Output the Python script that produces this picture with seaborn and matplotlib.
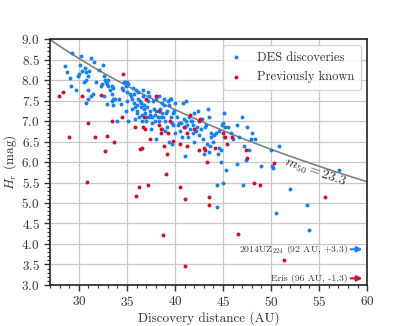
# H_r vs discovery distance for DES TNOs

import numpy as np
import pandas as pd
import matplotlib
matplotlib.use("Agg")
import matplotlib.pyplot as plt
import seaborn as sns
from matplotlib.ticker import MultipleLocator

# DES discoveries (distance AU, H_r mag)
des_dist = [28.6, 28.8, 29.1, 29.2, 29.3, 29.7, 29.9, 30.0, 30.1, 30.2, 30.3, 30.5, 30.6, 30.7, 30.7, 30.7,
            31.0, 31.0, 31.0, 31.1, 31.3, 31.3, 31.5, 31.6, 31.8, 32.1, 32.3, 32.4, 32.5, 32.6, 32.6, 32.7,
            32.8, 32.9, 33.0, 33.0, 32.9, 33.2, 33.4, 33.4, 33.4, 33.5, 33.6, 33.6, 33.8, 34.0, 34.2, 34.4,
            34.5, 34.6, 34.7, 34.8, 34.9, 35.0, 35.0, 35.1, 35.0, 35.1, 35.4, 35.5, 35.5, 35.6, 35.7, 35.7,
            35.8, 35.8, 35.9, 36.0, 36.0, 36.1, 36.2, 36.3, 36.4, 36.5, 36.5, 36.6, 36.6, 36.7, 36.7, 36.8,
            36.9, 37.0, 37.0, 37.1, 37.2, 37.2, 37.3, 37.3, 37.4, 37.5, 37.6, 37.6, 37.7, 37.8, 37.9, 38.0,
            38.0, 38.0, 38.2, 38.3, 38.3, 38.4, 38.5, 38.6, 38.7, 38.8, 38.9, 38.9, 39.0, 39.1, 39.2, 39.2,
            39.3, 39.4, 39.4, 39.5, 39.6, 39.6, 39.7, 39.7, 39.8, 39.9, 40.0, 40.0, 40.2, 40.3, 40.4, 40.5,
            40.7, 40.8, 40.9, 41.0, 41.0, 41.1, 41.2, 41.3, 41.4, 41.5, 41.6, 41.7, 41.8, 41.9, 42.0, 42.0,
            42.3, 42.4, 42.5, 42.7, 42.8, 43.0, 43.1, 43.2, 43.3, 43.4, 43.5, 43.5, 43.6, 43.7,
            43.8, 44.1, 44.3, 44.4, 44.4, 44.5, 44.6, 44.8, 44.8, 44.9, 45.0, 45.0, 45.1, 45.1, 45.2, 45.3, 45.5,
            45.8, 46.0, 46.5, 46.5, 46.7, 47.0, 47.1, 47.2, 47.4, 47.5, 47.7, 47.9, 48.0, 48.3, 49.0,
            50.0, 50.1, 50.2, 50.5, 50.8, 52.0, 53.7, 54.0, 57.1,
            34.9, 35.3, 36.2, 36.8, 37.4, 37.9, 38.6, 39.0, 39.8, 40.6, 41.9, 42.2, 42.9, 44.0, 44.6]
des_h = [8.35, 8.2, 8.05, 7.85, 8.65, 7.75, 8.1, 8.15, 8.38, 8.58, 8.22, 7.95, 8.3, 8.2, 8.0, 7.45,
         8.1, 7.75, 7.55, 8.22, 7.6, 8.55, 7.65, 8.45, 7.95, 8.25, 7.85, 7.9, 8.38, 8.1, 7.6, 8.0,
         7.95, 7.9, 8.0, 7.85, 7.42, 7.75, 7.5, 7.65, 7.85, 7.8, 7.55, 7.4, 7.55, 7.0, 7.55, 7.42,
         7.8, 7.75, 7.95, 7.95, 7.25, 7.95, 7.7, 7.0, 7.5, 7.9, 7.6, 7.55, 7.3, 7.8, 7.45, 7.65,
         7.05, 7.35, 7.75, 7.2, 7.4, 7.25, 7.7, 7.1, 7.5, 7.45, 7.35, 7.15, 7.0, 7.75, 7.6, 7.4,
         7.2, 7.0, 7.1, 7.35, 7.7, 7.5, 7.6, 7.1, 7.15, 6.8, 7.1, 6.95, 7.5, 7.3, 7.0, 6.55,
         7.25, 7.55, 7.1, 7.6, 7.0, 7.3, 7.1, 6.8, 7.2, 7.1, 7.4, 7.55, 7.0, 7.2, 6.85, 7.25,
         7.5, 7.4, 6.5, 7.55, 7.55, 7.1, 6.95, 6.45, 6.9, 7.25, 7.45, 6.7, 7.1, 6.9, 6.95, 6.75,
         6.6, 7.45, 7.05, 6.15, 6.85, 7.0, 7.5, 6.9, 6.6, 7.1, 6.8, 7.0, 7.0, 6.7, 6.5, 7.2,
         6.85, 7.25, 6.65, 6.8, 7.05, 6.2, 6.85, 6.9, 6.45, 7.3, 7.1, 6.25, 6.4, 6.7,
         6.6, 6.65, 6.7, 4.9, 5.45, 6.2, 6.35, 6.0, 6.3, 6.9, 6.95, 5.5, 7.2, 6.6, 6.85, 5.8, 6.85,
         6.7, 6.55, 5.95, 6.9, 6.6, 7.1, 5.45, 6.4, 6.05, 6.85, 6.3, 6.55, 6.7, 6.55, 5.9,
         6.3, 5.9, 5.85, 4.75, 6.4, 5.35, 4.95, 4.35, 5.8,
         7.85, 7.65, 7.55, 7.3, 7.25, 7.15, 7.45, 6.75, 7.2, 6.95, 6.9, 6.75, 6.55, 6.5, 6.75]

# previously known objects
known_dist = [27.9, 28.3, 29.0, 30.3, 30.8, 30.95, 31.7, 32.3, 32.7, 32.9, 33.4, 33.7, 34.5, 34.6,
              35.8, 35.9, 36.3, 36.4, 36.6, 36.7, 36.8, 36.9, 37.0, 37.2, 37.4, 38.0, 38.3, 38.3,
              38.5, 38.5, 38.8, 38.9, 39.1, 39.2, 39.3, 39.5, 39.8, 40.5, 40.5, 40.9, 41.0, 41.0,
              41.3, 41.3, 41.6, 42.0, 42.5, 42.5, 42.6, 43.0, 43.1, 43.3, 43.5, 43.5, 44.2, 45.0,
              45.2, 45.4, 45.9, 46.6, 47.4, 47.5, 48.2, 48.9, 50.3, 51.3, 55.6]
known_h = [7.6, 7.7, 6.6, 7.62, 5.52, 6.95, 6.6, 7.63, 6.28, 6.63, 7.0, 6.48, 7.1, 8.15,
           6.85, 5.17, 5.4, 6.33, 6.35, 6.85, 7.1, 6.8, 7.55, 5.45, 6.55, 7.6, 6.9, 7.25,
           6.8, 6.7, 4.22, 6.4, 5.7, 6.2, 6.7, 7.0, 6.52, 6.45, 5.4, 6.85, 5.1, 3.45,
           6.4, 6.7, 7.15, 6.8, 7.0, 6.3, 7.05, 6.35, 6.3, 6.0, 5.15, 4.95, 6.35, 6.7,
           6.6, 6.45, 6.6, 4.25, 6.3, 6.1, 5.5, 5.45, 5.98, 3.62, 5.15]

m50 = 23.3
blue = "#1a80f0"
red = "#cc1030"
text_col = "#333333"

des = pd.DataFrame({"dist": des_dist, "H": des_h})
known = pd.DataFrame({"dist": known_dist, "H": known_h})

sns.set_style("ticks")
plt.rcParams["font.family"] = ["cmr10", "DejaVu Serif"]
plt.rcParams["mathtext.fontset"] = "cm"
plt.rcParams["axes.formatter.use_mathtext"] = True
plt.rcParams["font.size"] = 9.5

fig = plt.figure(figsize=(4.07, 3.26), dpi=100)
ax = fig.add_axes([0.123, 0.126, 0.779, 0.754])

sns.scatterplot(data=des, x="dist", y="H", color=blue, s=8, linewidth=0,
                label="DES discoveries", ax=ax, zorder=3)
sns.scatterplot(data=known, x="dist", y="H", color=red, s=8, linewidth=0,
                label="Previously known", ax=ax, zorder=3)

# completeness curve
d = np.linspace(27, 60, 200)
ax.plot(d, m50 - 10 * np.log10(d), color="#808080", lw=1.2, zorder=2)
ax.text(54.6, 5.74, r"$m_{50} = 23.3$", rotation=-19, ha="center", va="center",
        color=text_col, fontsize=10)

# off-scale objects
ax.annotate("", xy=(59.8, 3.87), xytext=(58.0, 3.87),
            arrowprops=dict(arrowstyle="-|>", color=blue, lw=1.5, mutation_scale=8))
ax.text(58.0, 3.87, r"2014UZ$_{224}$ (92 AU, +3.3)", ha="right", va="center",
        color=text_col, fontsize=7)
ax.annotate("", xy=(59.8, 3.16), xytext=(58.0, 3.16),
            arrowprops=dict(arrowstyle="-|>", color=red, lw=1.5, mutation_scale=8))
ax.text(58.0, 3.16, "Eris (96 AU, -1.3)", ha="right", va="center",
        color=text_col, fontsize=7)

ax.set_xlim(27, 60)
ax.set_ylim(3.0, 9.0)
ax.xaxis.set_major_locator(MultipleLocator(5))
ax.xaxis.set_minor_locator(MultipleLocator(1))
ax.yaxis.set_major_locator(MultipleLocator(0.5))
ax.yaxis.set_minor_locator(MultipleLocator(0.1))
ax.grid(True, which="major", color="#c8c8c8", lw=0.9)
ax.set_axisbelow(True)
ax.tick_params(which="major", direction="out", length=4, width=1, colors=text_col, labelsize=9.5)
ax.tick_params(which="minor", direction="out", length=2, width=0.8, colors=text_col)
for sp in ax.spines.values():
    sp.set_linewidth(1.2)
    sp.set_color("#222222")

ax.set_xlabel("Discovery distance (AU)", color=text_col, labelpad=1)
ax.set_ylabel(r"$H_r$ (mag)", color=text_col, labelpad=2)

leg = ax.legend(loc="upper right", fontsize=9, frameon=True, fancybox=True,
                handlelength=1.0, handletextpad=1.2, borderpad=0.5, labelspacing=0.6)
for t in leg.get_texts():
    t.set_color(text_col)
leg.get_frame().set_edgecolor("#cccccc")

plt.savefig("out.png", dpi=100)
